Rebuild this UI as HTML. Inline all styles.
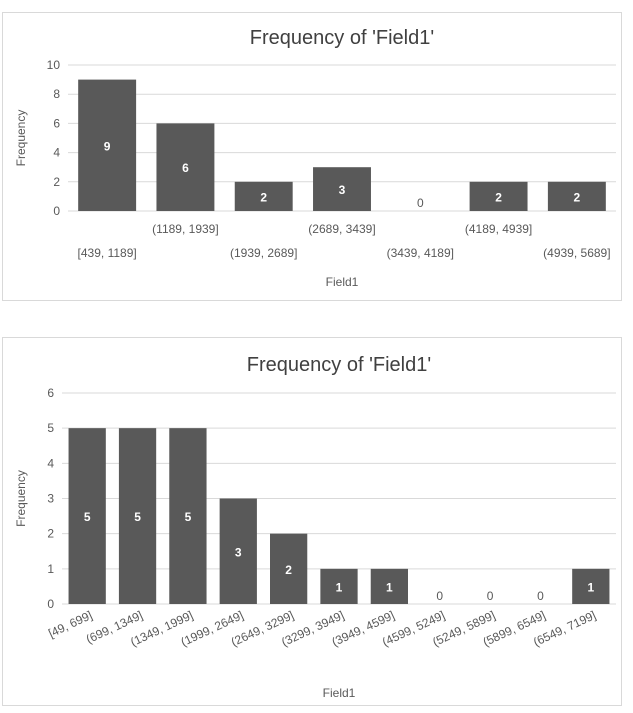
<!DOCTYPE html>
<html><head><meta charset="utf-8"><style>
body{margin:0;background:#fff;width:633px;height:708px;overflow:hidden}
svg text{font-family:"Liberation Sans",sans-serif}
</style></head><body>
<svg id="s" width="633" height="708">
<rect x="2.5" y="12.5" width="619" height="288" fill="#fff" stroke="#d9d9d9"/>
<rect x="2.5" y="337.5" width="619" height="368" fill="#fff" stroke="#d9d9d9"/>
<g id="c1"></g>
<g id="c2"></g>
</svg>
<script>
const cats1=["[439, 1189]","(1189, 1939]","(1939, 2689]","(2689, 3439]","(3439, 4189]","(4189, 4939]","(4939, 5689]"];
const vals1=[9,6,2,3,0,2,2];
const ticks1=[0,2,4,6,8,10];
const cats2=["[49, 699]","(699, 1349]","(1349, 1999]","(1999, 2649]","(2649, 3299]","(3299, 3949]","(3949, 4599]","(4599, 5249]","(5249, 5899]","(5899, 6549]","(6549, 7199]"];
const vals2=[5,5,5,3,2,1,1,0,0,0,1];
const ticks2=[0,1,2,3,4,5,6];
const NS="http://www.w3.org/2000/svg";
function mk(p,tag,a,txt){const e=document.createElementNS(NS,tag);for(const k in a)e.setAttribute(k,a[k]);if(txt!==undefined)e.textContent=txt;p.appendChild(e);return e;}
function draw(g,cats,vals,ticks,o){
  const ymax=ticks[ticks.length-1];
  const y=v=>o.y0-(o.y0-o.y1)*v/ymax;
  const bw=(o.x1-o.x0)/cats.length;
  const x=i=>o.x0+bw*i;
  let t=mk(g,'text',{x:(o.x0+o.x1)/2,y:o.ty,'text-anchor':'middle','font-size':20,fill:'#404040'},"Frequency of 'Field1'");
  
  ticks.forEach(v=>{
    let l=mk(g,'line',{x1:o.x0,x2:o.x1,y1:y(v),y2:y(v),stroke:'#d9d9d9','stroke-width':1});
    
    let tt=mk(g,'text',{x:o.x0-8,y:y(v)+4,'text-anchor':'end','font-size':12,fill:'#595959'},v);
    
  });
  let yl=mk(g,'text',{transform:`translate(${o.ylx},${(o.y0+o.y1)/2}) rotate(-90)`,'text-anchor':'middle','font-size':12,fill:'#595959'},'Frequency');
  
  cats.forEach((c,i)=>{
    const cx=x(i)+bw/2,w=bw*o.frac;
    if(vals[i]>0){
      let r=mk(g,'rect',{x:cx-w/2,y:y(vals[i]),width:w,height:o.y0-y(vals[i]),fill:'#595959'});
      
    }
    const ly=vals[i]>0?(y(vals[i])+o.y0)/2+5:o.y0-4;
    let vl=mk(g,'text',{x:cx,y:ly,'text-anchor':'middle','font-size':12,'font-weight':vals[i]>0?'bold':'normal',fill:vals[i]>0?'#fff':'#595959'},vals[i]);
    
    let cl;
    if(o.rot){
      cl=mk(g,'text',{transform:`translate(${cx+6},${o.y0+14}) rotate(-25)`,'text-anchor':'end','font-size':12,fill:'#595959'},c);
    }else{
      cl=mk(g,'text',{x:cx,y:o.y0+(i%2?22:46),'text-anchor':'middle','font-size':12,fill:'#595959'},c);
    }
    
  });
  let xl=mk(g,'text',{x:(o.x0+o.x1)/2,y:o.xty,'text-anchor':'middle','font-size':12,fill:'#595959'},'Field1');
  
}
draw(document.getElementById('c1'),cats1,vals1,ticks1,{x0:68,x1:616,y0:211,y1:65,ty:44,ylx:25,frac:0.74,rot:false,xty:286});
draw(document.getElementById('c2'),cats2,vals2,ticks2,{x0:62,x1:616,y0:604,y1:393,ty:371,ylx:25,frac:0.74,rot:true,xty:697});
</script>
</body></html>
